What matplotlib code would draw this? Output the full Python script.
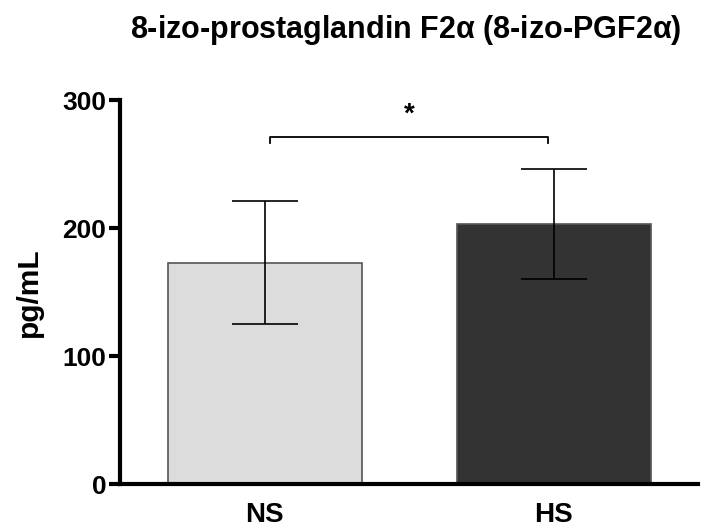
import matplotlib.pyplot as plt

groups = ['NS', 'HS']
means = [173, 203]
errors = [48, 43]
colors = ['#dcdcdc', '#333333']
bracket_y = 271

plt.rcParams['font.family'] = ['Liberation Sans', 'DejaVu Sans']

fig = plt.figure(figsize=(7.02, 5.28), dpi=100)
ax = fig.add_axes([0.171, 0.083, 0.824, 0.727])

x = range(len(groups))
ax.bar(x, means, width=0.67, color=colors, edgecolor='#555555', linewidth=1.2, zorder=2)
ax.errorbar(x, means, yerr=errors, fmt='none', ecolor='black', elinewidth=1.2,
            capsize=24, capthick=1.2, zorder=3)

# significance bracket
ax.plot([0.02, 0.02, 0.98, 0.98], [bracket_y - 4, bracket_y, bracket_y, bracket_y - 4],
        color='black', lw=1.3, clip_on=False)
ax.text(0.5, bracket_y + 8, '*', ha='center', va='bottom', fontsize=20, fontweight='bold')

ax.set_xlim(-0.5, 1.5)
ax.set_ylim(0, 300)
ax.set_yticks([0, 100, 200, 300])
ax.set_xticks(list(x))
ax.set_xticklabels(groups)
for s in ['top', 'right']:
    ax.spines[s].set_visible(False)
for s in ['left', 'bottom']:
    ax.spines[s].set_linewidth(3)
ax.tick_params(axis='y', width=3, length=8, labelsize=19, pad=2)
ax.tick_params(axis='x', length=0, labelsize=20, pad=13)
for lab in ax.get_xticklabels() + ax.get_yticklabels():
    lab.set_fontweight('bold')

ax.set_ylabel('pg/mL', fontsize=21.5, fontweight='bold', labelpad=14)
fig.text(0.578, 0.928, r'8-izo-prostaglandin F2$\mathregular{\alpha}$ (8-izo-PGF2$\mathregular{\alpha}$)',
         ha='center', va='baseline', fontsize=22, fontweight='bold')

fig.savefig('out.png', dpi=100)
